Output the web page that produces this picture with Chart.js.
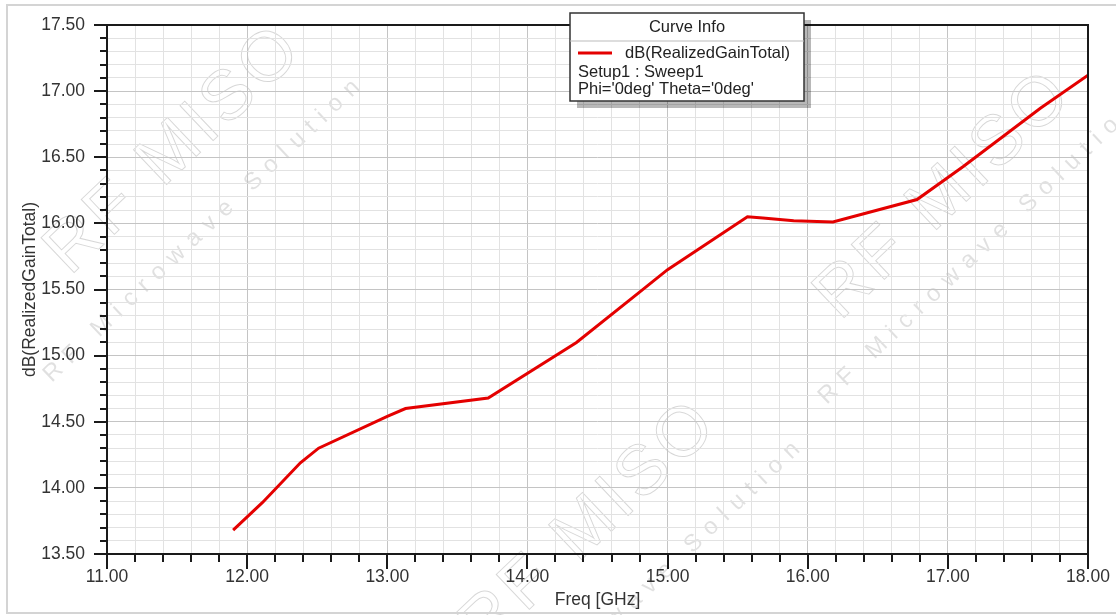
<!DOCTYPE html>
<html>
<head>
<meta charset="utf-8">
<script src="https://cdn.jsdelivr.net/npm/chart.js@4.4.1/dist/chart.umd.min.js"></script>
<style>
  html, body { margin: 0; padding: 0; background: #fff; }
  #wrap { width: 1116px; height: 615px; position: relative; }
</style>
</head>
<body>
<div id="wrap"><canvas id="gainChart" width="1116" height="615"></canvas></div>
<script>
// values
const freqGHz = [11.9, 12.11, 12.38, 12.51, 13.0, 13.13, 13.72, 14.35, 14.8, 15.0, 15.57, 15.68, 15.9, 16.18, 16.78, 17.11, 17.66, 18.0];
const gainDb = [13.68, 13.89, 14.19, 14.30, 14.54, 14.60, 14.68, 15.10, 15.48, 15.65, 16.05, 16.04, 16.02, 16.01, 16.18, 16.43, 16.87, 17.12];
const xRange = [11, 18];
const yRange = [13.5, 17.5];
const legendLines = ["dB(RealizedGainTotal)", "Setup1 : Sweep1", "Phi='0deg' Theta='0deg'"];

const FONT = "'Liberation Sans', Arial, sans-serif";
const curveRed = "rgb(228, 0, 0)";

const isMajorX = (v) => Math.abs(v - Math.round(v)) < 1e-6;
const isMajorY = (v) => Math.abs(v * 2 - Math.round(v * 2)) < 1e-6;

// light watermark text, behind everything
const watermark = {
	id: "watermark",
	beforeDraw(chart) {
		const ctx = chart.ctx;
		ctx.save();
		ctx.fillStyle = "#fff";
		ctx.fillRect(0, 0, chart.width, chart.height);
		const marks = [
			{ x: 175, y: 150, sx: 205, sy: 228 },
			{ x: 945, y: 195, sx: 980, sy: 250 },
			{ x: 590, y: 525, sx: 645, sy: 590 },
		];
		ctx.strokeStyle = "rgba(0,0,0,0.16)";
		ctx.fillStyle = "rgba(0,0,0,0.12)";
		ctx.lineWidth = 1;
		ctx.textAlign = "center";
		ctx.textBaseline = "middle";
		marks.forEach((m) => {
			ctx.save();
			ctx.translate(m.x, m.y);
			ctx.rotate(-0.76);
			ctx.font = "70px " + FONT;
			ctx.letterSpacing = "5px";
			ctx.strokeText("RF MISO", 0, 0);
			ctx.restore();
			ctx.save();
			ctx.translate(m.sx, m.sy);
			ctx.rotate(-0.76);
			ctx.font = "24px " + FONT;
			ctx.letterSpacing = "9px";
			ctx.fillText("RF Microwave Solution", 0, 0);
			ctx.restore();
		});
		// outer frame of the picture
		ctx.strokeStyle = "#d4d4d4";
		ctx.lineWidth = 2;
		ctx.strokeRect(7, 5, 1130, 608);
		ctx.restore();
	},
};

// plot frame, tick marks and the "Curve Info" box
const decorations = {
	id: "decorations",
	afterDraw(chart) {
		const ctx = chart.ctx;
		const a = chart.chartArea;
		const xs = chart.scales.x;
		const ys = chart.scales.y;
		ctx.save();
		ctx.strokeStyle = "#1a1a1a";
		ctx.lineWidth = 2;
		ctx.strokeRect(a.left, a.top, a.right - a.left, a.bottom - a.top);

		ctx.beginPath();
		xs.ticks.forEach((t) => {
			const px = Math.round(xs.getPixelForValue(t.value));
			const len = isMajorX(t.value) ? 15 : 8;
			ctx.moveTo(px, a.bottom);
			ctx.lineTo(px, a.bottom + len);
		});
		ys.ticks.forEach((t) => {
			const py = Math.round(ys.getPixelForValue(t.value));
			const len = isMajorY(t.value) ? 13 : 7;
			ctx.moveTo(a.left, py);
			ctx.lineTo(a.left - len, py);
		});
		ctx.stroke();

		// legend box
		const bx = 570, by = 13, bw = 234, bh = 88;
		ctx.fillStyle = "rgba(0,0,0,0.28)";
		ctx.fillRect(bx + 7, by + 7, bw, bh);
		ctx.fillStyle = "#fff";
		ctx.fillRect(bx, by, bw, bh);
		ctx.strokeStyle = "#333";
		ctx.lineWidth = 1.5;
		ctx.strokeRect(bx, by, bw, bh);
		ctx.strokeStyle = "#bbb";
		ctx.lineWidth = 1;
		ctx.beginPath();
		ctx.moveTo(bx, by + 28);
		ctx.lineTo(bx + bw, by + 28);
		ctx.stroke();

		ctx.fillStyle = "#222";
		ctx.font = "16.5px " + FONT;
		ctx.textBaseline = "middle";
		ctx.textAlign = "center";
		ctx.fillText("Curve Info", bx + bw / 2, by + 14);
		ctx.textAlign = "left";
		ctx.strokeStyle = curveRed;
		ctx.lineWidth = 3;
		ctx.beginPath();
		ctx.moveTo(bx + 8, by + 40);
		ctx.lineTo(bx + 42, by + 40);
		ctx.stroke();
		ctx.fillText(legendLines[0], bx + 55, by + 40);
		ctx.fillText(legendLines[1], bx + 8, by + 59);
		ctx.fillText(legendLines[2], bx + 8, by + 76);
		ctx.restore();
	},
};

const ctx = document.getElementById("gainChart").getContext("2d");
new Chart(ctx, {
	type: "line",
	data: {
		datasets: [
			{
				label: legendLines[0],
				data: freqGHz.map((f, i) => ({ x: f, y: gainDb[i] })),
				borderColor: curveRed,
				borderWidth: 3,
				pointRadius: 0,
				tension: 0,
				fill: false,
			},
		],
	},
	options: {
		responsive: false,
		animation: false,
		layout: { padding: { left: 0, right: 28, top: 25, bottom: 0 } },
		plugins: { legend: { display: false }, tooltip: { enabled: false } },
		scales: {
			x: {
				type: "linear",
				min: xRange[0],
				max: xRange[1],
				afterFit: (s) => {
					s.height = 61;
					s.paddingLeft = 0;
					s.paddingRight = 0;
				},
				border: { display: false },
				grid: {
					drawTicks: false,
					color: (c) => (isMajorX(c.tick.value) ? "#c4c4c4" : "#e2e2e2"),
					lineWidth: 1,
				},
				ticks: {
					stepSize: 0.2,
					autoSkip: false,
					maxRotation: 0,
					padding: 13,
					color: "#333",
					font: { family: FONT, size: 17.5 },
					callback: (v) => (isMajorX(v) ? Number(v).toFixed(2) : ""),
				},
				title: {
					display: true,
					text: "Freq [GHz]",
					color: "#333",
					font: { family: FONT, size: 17.5 },
					padding: { top: 0, bottom: 4 },
				},
			},
			y: {
				min: yRange[0],
				max: yRange[1],
				afterFit: (s) => {
					s.width = 107;
					s.paddingTop = 0;
					s.paddingBottom = 0;
				},
				border: { display: false },
				grid: {
					drawTicks: false,
					color: (c) => (isMajorY(c.tick.value) ? "#c4c4c4" : "#e2e2e2"),
					lineWidth: 1,
				},
				ticks: {
					stepSize: 0.1,
					autoSkip: false,
					padding: 22,
					color: "#333",
					font: { family: FONT, size: 17.5 },
					callback: (v) => (isMajorY(v) ? Number(v).toFixed(2) : ""),
				},
				title: {
					display: true,
					text: "dB(RealizedGainTotal)",
					color: "#333",
					font: { family: FONT, size: 17.5 },
					padding: { top: 20, bottom: 0 },
				},
			},
		},
	},
	plugins: [watermark, decorations],
});
</script>
</body>
</html>
